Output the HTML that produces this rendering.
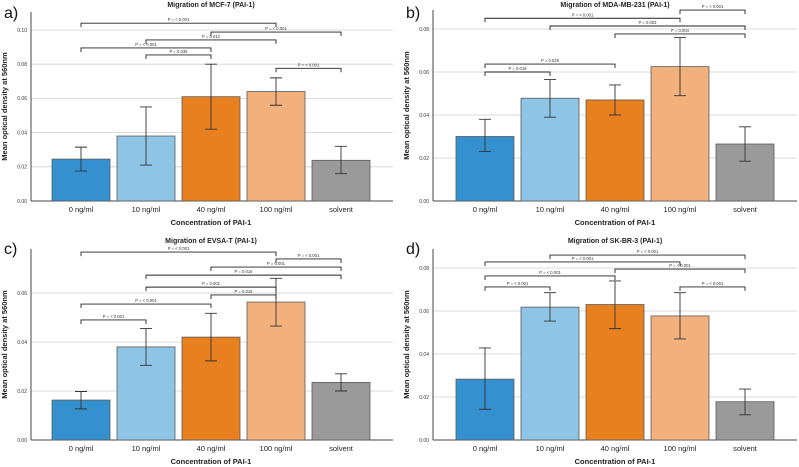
<!DOCTYPE html>
<html><head><meta charset="utf-8"><style>
html,body{margin:0;padding:0;background:#fff;}
svg{display:block;font-family:"Liberation Sans",sans-serif;}
</style></head><body>
<svg id="chart" width="799" height="467" viewBox="0 0 799 467"></svg>
<script>
const categories = ["0 ng/ml","10 ng/ml","40 ng/ml","100 ng/ml","solvent"];
const colors = ["#3490cf","#8ec5e6","#e8801f","#f2b07c","#9a9a9a"];

const meansA = [0.0245,0.038,0.061,0.064,0.0238];
const lowA = [0.0175,0.021,0.042,0.056,0.016];
const highA = [0.0315,0.055,0.080,0.072,0.032];
const ticksA = [0,0.02,0.04,0.06,0.08,0.10];
const brA = [[0,3,0.104,"P = < 0.001"],[2,4,0.0988,"P = < 0.001"],[1,3,0.0942,"P = 0.012"],[0,2,0.0895,"P = < 0.001"],[1,2,0.0854,"P = 0.035"],[3,4,0.0776,"P = < 0.001"]];

const meansB = [0.030,0.0478,0.047,0.0625,0.0265];
const lowB = [0.023,0.039,0.040,0.049,0.0185];
const highB = [0.038,0.0565,0.054,0.076,0.0345];
const ticksB = [0,0.02,0.04,0.06,0.08];
const brB = [[3,4,0.0888,"P = < 0.001"],[0,3,0.085,"P = < 0.001"],[1,4,0.0814,"P = 0.003"],[2,4,0.0777,"P = 0.004"],[0,2,0.0637,"P = 0.029"],[0,1,0.060,"P = 0.019"]];

const meansC = [0.0163,0.038,0.042,0.0563,0.0235];
const lowC = [0.0127,0.0305,0.0323,0.0465,0.020];
const highC = [0.0198,0.0455,0.0517,0.066,0.027];
const ticksC = [0,0.02,0.04,0.06];
const brC = [[0,3,0.0767,"P = < 0.001"],[3,4,0.0739,"P = < 0.001"],[2,4,0.0706,"P = 0.001"],[1,4,0.0673,"P = 0.015"],[1,3,0.0624,"P = 0.001"],[2,3,0.0592,"P = 0.016"],[0,2,0.0555,"P = < 0.001"],[0,1,0.049,"P = < 0.001"]];

const meansD = [0.0283,0.0618,0.063,0.0577,0.0178];
const lowD = [0.0143,0.0553,0.0518,0.047,0.0117];
const highD = [0.0428,0.0685,0.074,0.0685,0.0237];
const ticksD = [0,0.02,0.04,0.06,0.08];
const brD = [[1,4,0.086,"P = < 0.001"],[0,3,0.0828,"P = < 0.001"],[2,4,0.0795,"P = < 0.001"],[0,2,0.0763,"P = < 0.001"],[0,1,0.0712,"P = < 0.001"],[3,4,0.0712,"P = < 0.001"]];

const NS="http://www.w3.org/2000/svg";
const svg=document.getElementById("chart");
function mk(tag,attrs,parent){const e=document.createElementNS(NS,tag);for(const k in attrs)e.setAttribute(k,attrs[k]);parent.appendChild(e);return e;}

function panel(cfg){
  const g=mk("g",{},svg);
  
  
  const y=v=>cfg.bottom-v*cfg.scale;
  const xc=i=>cfg.x0+65*i;
  // grid & ticks
  cfg.ticks.forEach(t=>{
    const l=mk("line",{x1:cfg.axisX,x2:cfg.right,y1:y(t),y2:y(t),stroke:t===0?"#444":"#cfcfcf","stroke-width":t===0?1:0.8},g);
    
    
    const tx=mk("text",{x:cfg.axisX-4,y:y(t)+1.8,"font-size":5,"text-anchor":"end",fill:"#333"},g);
    tx.textContent=t.toFixed(2);
    
    
  });
  const ax=mk("line",{x1:cfg.axisX,x2:cfg.axisX,y1:cfg.top,y2:cfg.bottom,stroke:"#444","stroke-width":1},g);
  
  
  // bars
  cfg.means.forEach((m,i)=>{
    const r=mk("rect",{x:xc(i)-29,y:y(m),width:58,height:y(0)-y(m),fill:colors[i],stroke:"#5a5a5a","stroke-width":0.8},g);
    
    
    const eb=mk("path",{d:`M${xc(i)},${y(cfg.low[i])}V${y(cfg.high[i])}M${xc(i)-6},${y(cfg.low[i])}H${xc(i)+6}M${xc(i)-6},${y(cfg.high[i])}H${xc(i)+6}`,stroke:"#333","stroke-width":0.9,fill:"none"},g);
    
    
    const lb=mk("text",{x:xc(i),y:cfg.bottom+11,"font-size":7.5,"text-anchor":"middle",fill:"#222"},g);
    lb.textContent=categories[i];
    
    
  });
  // brackets
  cfg.br.forEach(b=>{
    const x1=xc(b[0]),x2=xc(b[1]),yy=y(b[2]);
    const p=mk("path",{d:`M${x1},${yy+4}V${yy}H${x2}V${yy+4}`,stroke:"#222","stroke-width":0.9,fill:"none"},g);
    
    
    const t=mk("text",{x:(x1+x2)/2,y:yy-2,"font-size":4.2,"text-anchor":"middle",fill:"#333"},g);
    t.textContent=b[3];
    
    
  });
  const ti=mk("text",{x:cfg.x0+130,y:cfg.titleY,"font-size":7,"font-weight":"bold","text-anchor":"middle",fill:"#222"},g);
  ti.textContent=cfg.title;
  
  
  const lt=mk("text",{x:cfg.axisX-27,y:cfg.titleY+11,"font-size":16,fill:"#111"},g);
  lt.textContent=cfg.letter+")";
  
  
  const xt=mk("text",{x:cfg.x0+130,y:cfg.bottom+24,"font-size":7.5,"font-weight":"bold","text-anchor":"middle",fill:"#222"},g);
  xt.textContent="Concentration of PAI-1";
  
  
  const cy=(cfg.top+cfg.bottom)/2;
  const yt=mk("text",{x:cfg.axisX-24,y:cy,"font-size":7.5,"font-weight":"bold","text-anchor":"middle",fill:"#222",transform:`rotate(-90 ${cfg.axisX-24} ${cy})`},g);
  yt.textContent="Mean optical density at 560nm";
  
  
}

panel({letter:"a",title:"Migration of MCF-7 (PAI-1)",means:meansA,low:lowA,high:highA,ticks:ticksA,br:brA,axisX:31,right:393,x0:81,bottom:201,top:12,scale:1710,titleY:7});
panel({letter:"b",title:"Migration of MDA-MB-231 (PAI-1)",means:meansB,low:lowB,high:highB,ticks:ticksB,br:brB,axisX:433,right:797,x0:485,bottom:201,top:10,scale:2150,titleY:7});
panel({letter:"c",title:"Migration of EVSA-T (PAI-1)",means:meansC,low:lowC,high:highC,ticks:ticksC,br:brC,axisX:31,right:393,x0:81,bottom:440,top:249,scale:2450,titleY:243});
panel({letter:"d",title:"Migration of SK-BR-3 (PAI-1)",means:meansD,low:lowD,high:highD,ticks:ticksD,br:brD,axisX:433,right:797,x0:485,bottom:440,top:249,scale:2150,titleY:243});
</script>
</body></html>
